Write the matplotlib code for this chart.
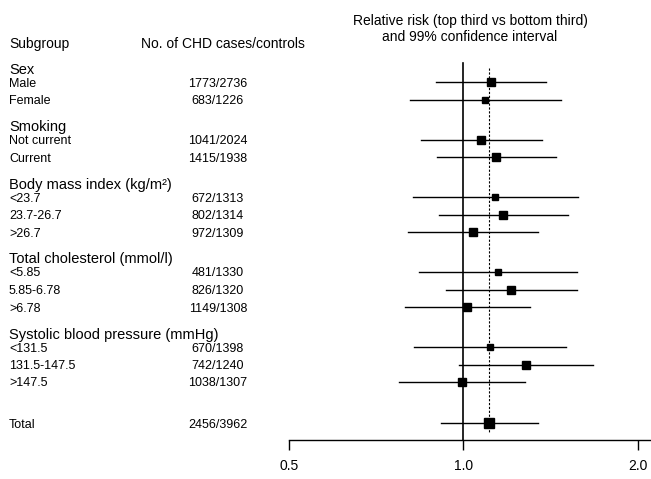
import matplotlib
matplotlib.use("Agg")
import matplotlib.pyplot as plt
import matplotlib.transforms as mtransforms

plt.rcParams['font.family'] = ['Liberation Sans', 'DejaVu Sans']

# subgroups: header, then rows (label, counts, rr, lo, hi, marker size px)
groups = ["Sex", "Smoking", "Body mass index (kg/m²)", "Total cholesterol (mmol/l)",
          "Systolic blood pressure (mmHg)"]
labels = [["Male", "Female"],
          ["Not current", "Current"],
          ["<23.7", "23.7-26.7", ">26.7"],
          ["<5.85", "5.85-6.78", ">6.78"],
          ["<131.5", "131.5-147.5", ">147.5"]]
counts = [["1773/2736", "683/1226"],
          ["1041/2024", "1415/1938"],
          ["672/1313", "802/1314", "972/1309"],
          ["481/1330", "826/1320", "1149/1308"],
          ["670/1398", "742/1240", "1038/1307"]]
rr = [[1.116, 1.09], [1.074, 1.139], [1.136, 1.171, 1.038],
      [1.149, 1.21, 1.015], [1.112, 1.281, 0.993]]
lo = [[0.898, 0.808], [0.846, 0.899], [0.819, 0.906, 0.802],
      [0.839, 0.935, 0.794], [0.822, 0.981, 0.773]]
hi = [[1.387, 1.474], [1.369, 1.443], [1.577, 1.516, 1.343],
      [1.571, 1.571, 1.302], [1.506, 1.672, 1.279]]
box = [[8.7, 6.0], [8.0, 8.7], [5.7, 7.3, 7.3],
       [6.0, 7.3, 8.0], [6.0, 7.3, 8.0]]

total_count = "2456/3962"
total_rr, total_lo, total_hi = 1.107, 0.915, 1.343
overall_rr = 1.109

fig = plt.figure(figsize=(6.51, 4.79), dpi=100)
ax = fig.add_axes([289 / 651, 0, (650 - 289) / 651, 1])
ax.set_xscale('log')
ax.set_xlim(0.5, 2.1)
ax.set_ylim(479, 0)
tr = mtransforms.blended_transform_factory(fig.transFigure, ax.transData)

fig.text(470 / 651, 1 - 29 / 479,
         "Relative risk (top third vs bottom third)\nand 99% confidence interval",
         ha='center', va='center', fontsize=10, linespacing=1.25)
ax.text(9 / 651, 42, "Subgroup", transform=tr, fontsize=10, va='center_baseline')
ax.text(141 / 651, 42, "No. of CHD cases/controls", transform=tr, fontsize=10,
        va='center_baseline')

y = 68
for g, name in enumerate(groups):
    ax.text(9 / 651, y, name, transform=tr, fontsize=10.5, va='center_baseline')
    yy = y + 14
    for i, lab in enumerate(labels[g]):
        ax.text(9 / 651, yy, lab, transform=tr, fontsize=9, va='center_baseline')
        ax.text(218 / 651, yy, counts[g][i], transform=tr, fontsize=9,
                va='center_baseline', ha='center')
        ax.plot([lo[g][i], hi[g][i]], [yy, yy], color='black', lw=1.0)
        ax.plot(rr[g][i], yy, marker='s', color='black', markersize=box[g][i] * 0.72)
        last = yy
        yy += 17.5
    y = last + 26

ty = last + 41
ax.text(9 / 651, ty, "Total", transform=tr, fontsize=9, va='center_baseline')
ax.text(218 / 651, ty, total_count, transform=tr, fontsize=9, va='center_baseline',
        ha='center')
ax.plot([total_lo, total_hi], [ty, ty], color='black', lw=1.0)
ax.plot(total_rr, ty, marker='s', color='black', markersize=10 * 0.72)

ax.plot([1.0, 1.0], [63, 440], color='black', lw=1.2)
ax.plot([overall_rr, overall_rr], [68, 432], color='black', lw=0.8, dashes=(2, 1.5))

for s in ['top', 'left', 'right']:
    ax.spines[s].set_visible(False)
ax.spines['bottom'].set_position(('data', 440))
ax.spines['bottom'].set_linewidth(1.0)
ax.set_yticks([])
ax.set_xticks([0.5, 1.0, 2.0])
ax.set_xticklabels(["0.5", "1.0", "2.0"])
ax.xaxis.set_minor_locator(matplotlib.ticker.NullLocator())
ax.tick_params(axis='x', direction='out', length=7, width=1.0, labelsize=10, pad=7)
ax.patch.set_visible(False)

fig.savefig("out.png", dpi=100)
